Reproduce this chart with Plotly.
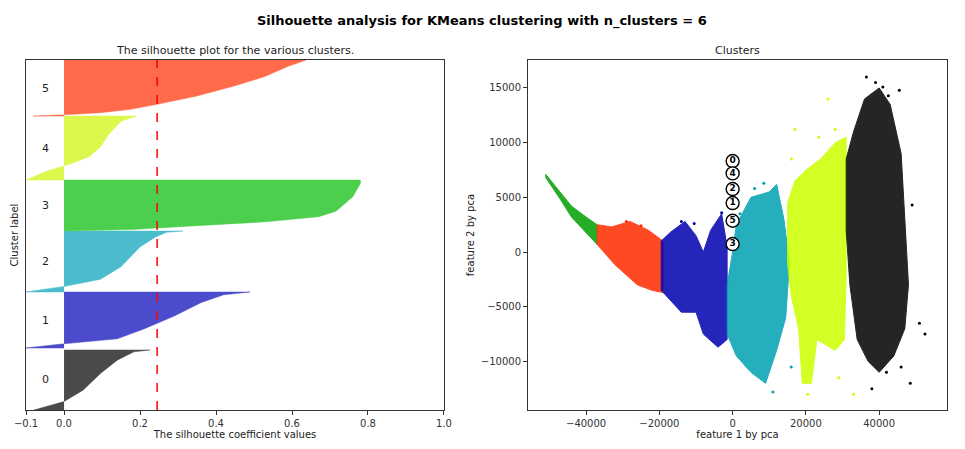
import plotly.graph_objects as go

# ---- silhouette data (sorted profile: fraction of band height -> coefficient) ----
sil_band_0 = [0, 60]
sil_frac_0 = [0, 0.14, 0.33, 0.61, 0.83, 0.97, 1.0]
sil_val_0 = [-0.079, 0.0, 0.05, 0.096, 0.14, 0.184, 0.226]
sil_band_1 = [62, 118]
sil_frac_1 = [0, 0.076, 0.164, 0.34, 0.57, 0.81, 0.95, 1.0]
sil_val_1 = [-0.1, 0.0, 0.14, 0.21, 0.29, 0.36, 0.42, 0.49]
sil_band_2 = [118, 179]
sil_frac_2 = [0, 0.092, 0.21, 0.416, 0.74, 0.9, 0.98, 1.0]
sil_val_2 = [-0.1, 0.0, 0.096, 0.15, 0.2, 0.24, 0.27, 0.313]
sil_band_3 = [179, 230]
sil_frac_3 = [0, 0.03, 0.11, 0.18, 0.28, 0.39, 0.67, 0.93, 1.0]
sil_val_3 = [0.0, 0.18, 0.36, 0.53, 0.67, 0.716, 0.76, 0.78, 0.78]
sil_band_4 = [230, 294]
sil_frac_4 = [0, 0.13, 0.22, 0.26, 0.365, 0.52, 0.73, 0.92, 1.0]
sil_val_4 = [-0.1, -0.05, 0.0, 0.02, 0.066, 0.096, 0.12, 0.15, 0.19]
sil_band_5 = [294, 350]
sil_frac_5 = [0, 0.024, 0.06, 0.12, 0.21, 0.36, 0.54, 0.71, 0.89, 1.0]
sil_val_5 = [-0.081, 0.0, 0.096, 0.175, 0.245, 0.35, 0.45, 0.53, 0.59, 0.637]
sil_avg = 0.245
sil_colors = ["#4a4a4a", "#4b4bcc", "#4bbccc", "#4ccf4c", "#ddf74c", "#ff6a4a"]

# ---- cluster cloud outlines (feature1, feature2) ----
cl3_x = [-51000, -47000, -44000, -40000, -37000, -37000, -40000, -44000, -47000, -51000]
cl3_y = [7100, 5500, 4200, 3200, 2500, 700, 1800, 3200, 4800, 6800]
cl5_x = [-37000, -33000, -28000, -23000, -19000, -19000, -22000, -26000, -32000, -37000]
cl5_y = [2500, 2300, 2800, 2000, 1000, -3700, -3500, -3000, -1200, 700]
cl1_x = [-19500, -17000, -13000, -10000, -8000, -6000, -3000, -1500, -1500, -4000, -8000, -10000, -14000, -19500]
cl1_y = [1000, 1800, 2800, 1500, 0, 2000, 3500, 500, -8000, -8700, -7500, -5500, -5500, -3500]
cl2_x = [1000, 5000, 10000, 12000, 14000, 15500, 14500, 12000, 10000, 9000, 5000, 1000, -1500, -1500, 0]
cl2_y = [2500, 5000, 5500, 6200, 3000, -1000, -6000, -9000, -11000, -12000, -11000, -9500, -7500, -3000, 0]
cl4_x = [15000, 17000, 20000, 24000, 28000, 31000, 31000, 30500, 28000, 23000, 21500, 19000, 18000, 16000, 15000]
cl4_y = [4500, 6500, 7500, 8500, 10000, 10500, -2000, -8000, -9000, -8000, -12000, -12000, -7000, -4000, -1000]
cl0_x = [31000, 33000, 36000, 40000, 43000, 46000, 47000, 48000, 47000, 44000, 40000, 37000, 34000, 32000, 31000]
cl0_y = [8500, 11000, 14000, 15000, 13500, 9000, 3000, -3000, -7000, -9500, -11000, -10000, -8000, -3000, 2000]
cloud_colors = {"0": "#000000", "1": "#0000b0", "2": "#00a0b0", "3": "#00a000", "4": "#ccff00", "5": "#ff2a00"}

# outlier points
out0_x = [36500, 39000, 41000, 42500, 45500, 49000, 51000, 52500, 48500, 38000, 42000, 46000]
out0_y = [16000, 15500, 15100, 14300, 14800, 4300, -6500, -7500, -12000, -12500, -11000, -10500]
out4_x = [17000, 26000, 28000, 23500, 20500, 33000, 29000, 16000]
out4_y = [11200, 14000, 11200, 10500, -13000, -13000, -11500, 8500]
out2_x = [6000, 8500, 11000, 2000, 16000]
out2_y = [5800, 6300, -12800, 3500, -10500]
out1_x = [-3000, -14000, -10500]
out1_y = [3600, 2800, 2600]
out5_x = [-29000, -25000]
out5_y = [2800, 2400]

centers_x = [0, 0, 0, 0, 0, 0]
centers_y = [8320, 7190, 5760, 4480, 2860, 730]
centers_lbl = ["<b>0</b>", "<b>4</b>", "<b>2</b>", "<b>1</b>", "<b>5</b>", "<b>3</b>"]

fig = go.Figure()
bands = [sil_band_0, sil_band_1, sil_band_2, sil_band_3, sil_band_4, sil_band_5]
fracs = [sil_frac_0, sil_frac_1, sil_frac_2, sil_frac_3, sil_frac_4, sil_frac_5]
vals = [sil_val_0, sil_val_1, sil_val_2, sil_val_3, sil_val_4, sil_val_5]
for i in range(6):
    lo, hi = bands[i]
    ys = [lo + f * (hi - lo) for f in fracs[i]]
    fig.add_trace(go.Scatter(x=[0] + vals[i] + [0], y=[lo] + ys + [hi], fill="toself",
                             fillcolor=sil_colors[i], line=dict(width=0.5, color=sil_colors[i]),
                             mode="lines", xaxis="x", yaxis="y", hoverinfo="skip"))
    fig.add_annotation(x=-0.05, y=(lo + hi) / 2, text=str(i), showarrow=False, xref="x", yref="y",
                       font=dict(size=11, color="#222"))
fig.add_trace(go.Scatter(x=[sil_avg, sil_avg], y=[0, 350], mode="lines",
                         line=dict(color="red", dash="dash", width=1.5), xaxis="x", yaxis="y"))

clouds = [("3", cl3_x, cl3_y), ("5", cl5_x, cl5_y), ("1", cl1_x, cl1_y),
          ("2", cl2_x, cl2_y), ("4", cl4_x, cl4_y), ("0", cl0_x, cl0_y)]
for k, xs, ys in clouds:
    fig.add_trace(go.Scatter(x=xs + xs[:1], y=ys + ys[:1], fill="toself", fillcolor=cloud_colors[k],
                             opacity=0.85, line=dict(width=1, color=cloud_colors[k]), mode="lines",
                             xaxis="x2", yaxis="y2"))
for k, xs, ys in [("0", out0_x, out0_y), ("4", out4_x, out4_y), ("2", out2_x, out2_y),
                  ("1", out1_x, out1_y), ("5", out5_x, out5_y)]:
    fig.add_trace(go.Scatter(x=xs, y=ys, mode="markers", marker=dict(size=3, color=cloud_colors[k]),
                             xaxis="x2", yaxis="y2"))
fig.add_trace(go.Scatter(x=centers_x, y=centers_y, mode="markers+text", text=centers_lbl,
                         textfont=dict(size=9, color="black", family="DejaVu Sans"),
                         marker=dict(size=13, color="white", line=dict(color="black", width=1.4)),
                         xaxis="x2", yaxis="y2"))

ax = dict(showgrid=False, zeroline=False, showline=True, linecolor="#333", mirror=True, automargin=False,
          ticks="outside", ticklen=4, tickcolor="#333", tickfont=dict(size=10, color="#333"))
ydom = [0.1047, 0.884]
fig.update_layout(
    width=965, height=449, margin=dict(l=0, r=0, t=0, b=0), showlegend=False,
    plot_bgcolor="white", paper_bgcolor="white", font=dict(family="DejaVu Sans", color="#222"),
    title=dict(text="<b>Silhouette analysis for KMeans clustering with n_clusters = 6</b>",
               x=0.491, xanchor="center", y=0.973, yanchor="middle", font=dict(size=13, color="black"),
               automargin=False),
    xaxis=dict(ax, domain=[0.0187, 0.4518], range=[-0.1, 1.0], tickvals=[-0.1, 0, 0.2, 0.4, 0.6, 0.8, 1.0],
               ticktext=["−0.1", "0.0", "0.2", "0.4", "0.6", "0.8", "1.0"],
               title=dict(text="The silhouette coefficient values", font=dict(size=10), standoff=2)),
    yaxis=dict(ax, domain=ydom, range=[0, 350], showticklabels=False, ticks="",
               title=dict(text="Cluster label", font=dict(size=10), standoff=4)),
    xaxis2=dict(ax, domain=[0.5389, 0.973], range=[-55850, 58500], tickvals=[-40000, -20000, 0, 20000, 40000],
                ticktext=["−40000", "−20000", "0", "20000", "40000"], anchor="y2",
                title=dict(text="feature 1 by pca", font=dict(size=10), standoff=2)),
    yaxis2=dict(ax, domain=ydom, range=[-14440, 17550], anchor="x2",
                tickvals=[-10000, -5000, 0, 5000, 10000, 15000],
                ticktext=["−10000", "−5000", "0", "5000", "10000", "15000"],
                title=dict(text="feature 2 by pca", font=dict(size=10), standoff=4)),
    annotations=list(fig.layout.annotations) + [
        dict(text="The silhouette plot for the various clusters.", x=0.2353, y=0.886, xref="paper",
             yref="paper", showarrow=False, xanchor="center", yanchor="bottom", font=dict(size=11)),
        dict(text="Clusters", x=0.756, y=0.886, xref="paper", yref="paper", showarrow=False,
             xanchor="center", yanchor="bottom", font=dict(size=11)),
    ],
)
fig.write_html("out.html")
